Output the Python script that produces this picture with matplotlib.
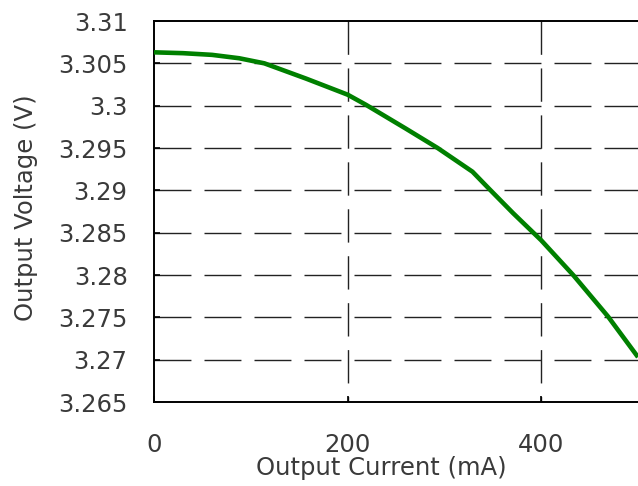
import matplotlib
matplotlib.use("Agg")
import matplotlib.pyplot as plt

# Data
current_mA = [0, 30, 60, 88, 114, 157, 200, 219, 260, 293, 329, 346, 371,
              400, 433, 469, 500]
voltage_V = [3.3063, 3.3062, 3.3060, 3.3056, 3.3050, 3.3032, 3.3013, 3.3001,
             3.2973, 3.2950, 3.2922, 3.2902, 3.2873, 3.2841, 3.2800, 3.2751,
             3.2703]

x_ticks = [0, 200, 400]
x_tick_labels = ["0", "200", "400"]
y_ticks = [3.265, 3.27, 3.275, 3.28, 3.285, 3.29, 3.295, 3.3, 3.305, 3.31]
y_tick_labels = ["3.265", "3.27", "3.275", "3.28", "3.285", "3.29", "3.295", "3.3", "3.305", "3.31"]
x_limits = (0, 500)
y_limits = (3.265, 3.31)

plt.rcParams['font.family'] = ['DejaVu Sans']
plt.rcParams['lines.scale_dashes'] = False

fig = plt.figure(figsize=(6.38, 4.86), dpi=100)
ax = fig.add_axes([154 / 638, 1 - 402 / 486, 1 - 154 / 638, (402 - 21) / 486])
ax.set_xlim(*x_limits)
ax.set_ylim(*y_limits)

text_color = '#3a3a3a'
grid_color = '#222222'

# horizontal dashed grid lines (drawn left to right)
for yv in y_ticks[1:-1]:
    ax.plot([x_limits[0], x_limits[1]], [yv, yv], color=grid_color, lw=1.0,
            dashes=(26.6, 9.4), zorder=1, clip_on=True)
# vertical dashed grid lines (drawn top to bottom)
for xv in x_ticks[1:]:
    ax.plot([xv, xv], [y_limits[1], y_limits[0]], color=grid_color, lw=1.0,
            dashes=(24.0, 9.8), zorder=1, clip_on=True)

ax.plot(current_mA, voltage_V, color='#008000', lw=3.3, zorder=3,
        solid_capstyle='butt', solid_joinstyle='round')

ax.set_xticks(x_ticks)
ax.set_xticklabels(x_tick_labels)
ax.set_yticks(y_ticks)
ax.set_yticklabels(y_tick_labels)

ax.tick_params(axis='both', direction='in', length=4, width=1.2, colors='black',
               labelcolor=text_color, labelsize=17.5)
ax.tick_params(axis='y', pad=19)
ax.tick_params(axis='x', pad=22)

for side in ['left', 'bottom', 'top']:
    ax.spines[side].set_linewidth(1.4)
    ax.spines[side].set_color('black')
ax.spines['right'].set_visible(False)

ax.set_xlabel('Output Current (mA)', fontsize=17.5, color=text_color)
ax.set_ylabel('Output Voltage (V)', fontsize=17.5, color=text_color)
ax.xaxis.set_label_coords(0.469, -0.142)
ax.yaxis.set_label_coords(-0.24, 0.51)

fig.savefig('out.png', dpi=100)
